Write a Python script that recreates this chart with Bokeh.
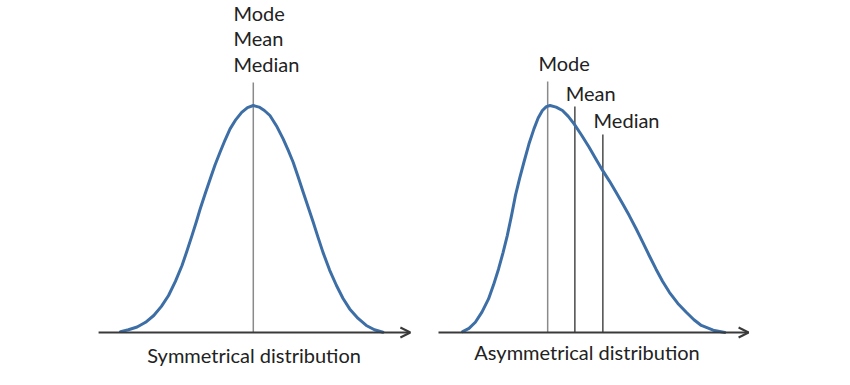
from bokeh.plotting import figure
from bokeh.models import Range1d, Arrow, OpenHead
from bokeh.core.properties import value
from bokeh.embed import file_html
from bokeh.resources import INLINE

# ---- data (x in arbitrary units, y = relative density) ----
sym_x = [0.0, 0.3, 0.63, 0.95, 1.26, 1.55, 1.82, 2.08, 2.33, 2.52, 2.71, 2.87, 3.02,
         3.21, 3.40, 3.58, 3.77, 3.96, 4.15, 4.37, 4.59, 4.81, 5.03, 5.25, 5.45,
         5.66, 5.91, 6.16, 6.35, 6.54, 6.73, 6.92, 7.11, 7.30, 7.48, 7.67, 7.92,
         8.18, 8.43, 8.68, 9.00, 9.31, 9.62, 9.94]
sym_y = [0.004, 0.012, 0.024, 0.045, 0.075, 0.115, 0.163, 0.225, 0.295, 0.36, 0.428,
         0.487, 0.545, 0.612, 0.677, 0.738, 0.794, 0.848, 0.897, 0.938, 0.970, 0.991,
         1.0, 0.993, 0.978, 0.956, 0.910, 0.853, 0.803, 0.750, 0.685, 0.618, 0.552,
         0.486, 0.420, 0.353, 0.275, 0.207, 0.150, 0.104, 0.062, 0.031, 0.012, 0.001]

asym_x = [0.01, 0.25, 0.49, 0.74, 0.99, 1.18, 1.37, 1.54, 1.70, 1.86, 2.01, 2.17,
          2.33, 2.52, 2.71, 2.87, 3.03, 3.18, 3.32, 3.55, 3.79, 4.01, 4.23, 4.51,
          4.80, 5.05, 5.31, 5.57, 5.82, 6.07, 6.32, 6.58, 6.83, 7.08, 7.33, 7.58,
          7.84, 8.16, 8.48, 8.77, 9.05, 9.50, 9.94]
asym_y = [0.004, 0.018, 0.045, 0.09, 0.148, 0.21, 0.280, 0.352, 0.427, 0.515, 0.604,
          0.680, 0.750, 0.830, 0.897, 0.945, 0.978, 0.995, 1.0, 0.993, 0.978, 0.952,
          0.919, 0.870, 0.816, 0.765, 0.714, 0.667, 0.618, 0.567, 0.515, 0.457, 0.398,
          0.338, 0.280, 0.226, 0.177, 0.128, 0.089, 0.056, 0.031, 0.010, 0.0]

sym_center = 5.03                      # mode = mean = median
asym_stats = ["Mode", "Mean", "Median"]
asym_values = [3.23, 4.26, 5.32]
sym_labels = ["Mode", "Mean", "Median"]
titles = ["Symmetrical distribution", "Asymmetrical distribution"]

# ---- layout constants ----
OFF = 12.95                 # horizontal offset of the right panel
FONT = value("Lato")
FS = "20px"
TXT = "#222222"
CURVE = "#3d6fa6"

p = figure(width=850, height=385, output_backend="svg", toolbar_location=None,
           x_axis_type=None, y_axis_type=None,
           x_range=Range1d(-4.545, 27.65), y_range=Range1d(-0.2335, 1.4626),
           min_border=0, outline_line_color=None)
p.grid.visible = False
p.background_fill_color = "white"
p.border_fill_color = "white"

# axes with arrow heads
for xs, xe in [(-0.83, 10.98), (OFF - 0.905, OFF + 10.84)]:
    p.add_layout(Arrow(end=OpenHead(size=10, line_width=2, line_color="#3a3a3a"),
                       x_start=xs, y_start=0, x_end=xe, y_end=0,
                       line_width=2, line_color="#3a3a3a"))

# vertical statistic lines
p.segment(x0=[sym_center], y0=[0], x1=[sym_center], y1=[1.101],
          line_color="#8a8a8a", line_width=1.5)
tops = [1.106, 0.996, 0.872]
cols = ["#8a8a8a", "#4a4a4a", "#4a4a4a"]
p.segment(x0=[v + OFF for v in asym_values], y0=[0, 0, 0],
          x1=[v + OFF for v in asym_values], y1=tops,
          line_color=cols, line_width=1.5)

# curves
p.line(sym_x, sym_y, line_color=CURVE, line_width=3, line_cap="round", line_join="round")
p.line([v + OFF for v in asym_x], asym_y, line_color=CURVE, line_width=3,
       line_cap="round", line_join="round")

# labels
p.text(x=[4.28] * 3, y=[1.408, 1.296, 1.184], text=sym_labels,
       text_font=FONT, text_font_size=FS, text_color=TXT,
       text_align="left", text_baseline="middle")
p.text(x=[2.88 + OFF, 3.91 + OFF, 4.97 + OFF], y=[1.189, 1.057, 0.938], text=asym_stats,
       text_font=FONT, text_font_size=FS, text_color=TXT,
       text_align="left", text_baseline="middle")
p.text(x=[5.06, 4.72 + OFF], y=[-0.097, -0.088], text=titles,
       text_font=FONT, text_font_size=FS, text_color=TXT,
       text_align="center", text_baseline="middle")

open("out.html", "w").write(file_html(p, INLINE))
